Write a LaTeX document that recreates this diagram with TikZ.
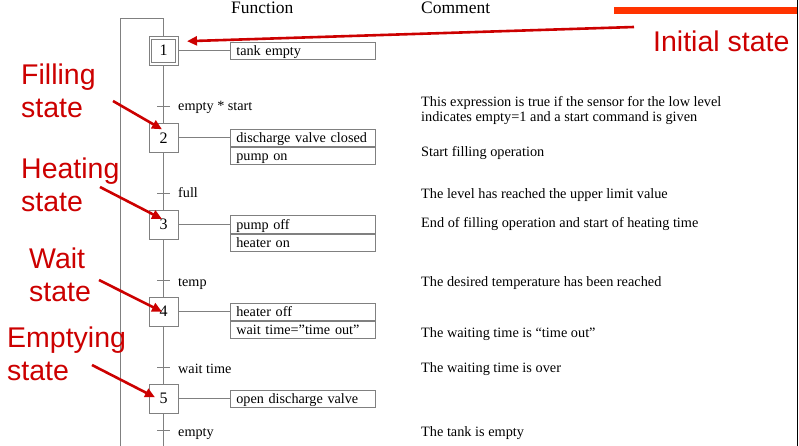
\documentclass[tikz,border=0pt]{standalone}
\usepackage{fontspec}
\setmainfont{Liberation Serif}
\newfontfamily\notefont{Liberation Sans}
\usetikzlibrary{arrows.meta,positioning}
\definecolor{colorLine}{HTML}{808080}
\definecolor{colorNote}{HTML}{CC0000}
\definecolor{colorBar}{HTML}{FF3300}

\begin{document}
\begin{tikzpicture}[x=1pt,y=-1pt,>={Triangle[length=10pt,width=9pt]},every node/.append style={align=left},stepbox/.style={draw=colorLine, line width=0.8pt, minimum size=29pt, inner sep=0pt, font=\fontsize{16}{18}\selectfont},innerbox/.style={draw=colorLine, line width=0.8pt, minimum size=23.5pt, inner sep=0pt},act/.style={draw=colorLine, line width=0.8pt, minimum height=17.3pt, text width=133pt, inner xsep=6pt, inner ysep=0pt, text height=11.5pt, text depth=1.5pt, font=\fontsize{14.2}{16}\selectfont},trans/.style={anchor=base west, inner sep=0pt, font=\fontsize{14.2}{16}\selectfont},cmt/.style={anchor=base west, inner sep=0pt, font=\fontsize{14.3}{15}\selectfont},head/.style={anchor=base west, inner sep=0pt, font=\fontsize{17.5}{20}\selectfont},note/.style={anchor=north west, inner sep=0pt, text=colorNote, font=\notefont\fontsize{28.5}{33}\selectfont},link/.style={draw=colorLine, line width=0.8pt},hint/.style={->, draw=colorNote, line width=2.6pt}]
    \useasboundingbox (0,0) rectangle (799,446);
    \node [head] (Hf) at (231,14) {Function};
    \node [head] (Hc) at (421,14) {Comment};
    \node [stepbox] (S1) at (163.5,50.7) {1};
    \node [innerbox] (S1i) at (S1) {};
    \node [stepbox] (S2) at (163.5,137.8) {2};
    \node [stepbox] (S3) at (163.5,224.5) {3};
    \node [stepbox] (S4) at (163.5,311.7) {4};
    \node [stepbox] (S5) at (163.5,398.8) {5};
    \node [act, right=51.5pt of S1] (A1) {tank empty};
    \node [act, right=51.5pt of S2] (A2a) {discharge valve closed};
    \node [act, below=0pt of A2a] (A2b) {pump on};
    \node [act, right=51.5pt of S3] (A3a) {pump off};
    \node [act, below=0pt of A3a] (A3b) {heater on};
    \node [act, right=51.5pt of S4] (A4a) {heater off};
    \node [act, below=0pt of A4a] (A4b) {wait time=''time out''};
    \node [act, right=51.5pt of S5] (A5) {open discharge valve};
    \coordinate (Top) at (163.5,18.5);
    \coordinate (Bot) at (163.5,446);
    \coordinate (LoopTop) at (120.5,18.5);
    \coordinate (LoopBot) at (120.5,446);
    \coordinate (T1) at (163.5,106.5);
    \coordinate (T2) at (163.5,193);
    \coordinate (T3) at (163.5,280);
    \coordinate (T4) at (163.5,367);
    \coordinate (T5) at (163.5,430.5);
    \draw [link] (LoopBot) -- (LoopTop) -- (Top) -- (S1);
    \draw [link] (S1) -- (S2);
    \draw [link] (S2) -- (S3);
    \draw [link] (S3) -- (S4);
    \draw [link] (S4) -- (S5);
    \draw [link] (S5) -- (Bot);
    \foreach \t in {T1,T2,T3,T4,T5}
        \draw [link] ([xshift=-6.5pt]\t) -- ([xshift=6pt]\t);
    \draw [link] (S1) -- (A1);
    \draw [link] (S2) -- (A2a);
    \draw [link] (S3) -- (A3a);
    \draw [link] (S4) -- (A4a);
    \draw [link] (S5) -- (A5);
    \node [trans] (L1) at (178,111) {empty * start};
    \node [trans] (L2) at (178,198) {full};
    \node [trans] (L3) at (178,286) {temp};
    \node [trans] (L4) at (178,373) {wait time};
    \node [trans] (L5) at (178,436) {empty};
    \node [cmt, anchor=north west] (C1) at (421,96.5) {This expression is true if the sensor for the low level\\indicates empty=1 and a start command is given};
    \node [cmt] (C2) at (421,157) {Start filling operation};
    \node [cmt] (C3) at (421,199) {The level has reached the upper limit value};
    \node [cmt] (C4) at (421,227) {End of filling operation and start of heating time};
    \node [cmt] (C5) at (421,286) {The desired temperature has been reached};
    \node [cmt] (C6) at (421,337) {The waiting time is ``time out''};
    \node [cmt] (C7) at (421,372) {The waiting time is over};
    \node [cmt] (C8) at (421,436) {The tank is empty};
    \draw [colorBar, line width=7pt] (614,10.5) -- (797,10.5);
    \draw [black, line width=1.2pt] (797.5,0) -- (797.5,446);
    \node [note, anchor=base west] (Ninit) at (653,52) {Initial state};
    \node [note] (Nfill) at (21,64) {Filling\\state};
    \node [note] (Nheat) at (21,158) {Heating\\state};
    \node [note] (Nwait) at (29,248) {Wait\\state};
    \node [note] (Nempty) at (7,327) {Emptying\\state};
    \coordinate (Hinit) at (634,27);
    \coordinate (Hfill) at (113,101);
    \coordinate (Hheat) at (100,187);
    \coordinate (Hwait) at (99,280);
    \coordinate (Hempty) at (92,365);
    \draw [hint] (Hinit) -- ([shift={(23.5pt,9.5pt)}]S1.center);
    \draw [hint] (Hfill) -- ([shift={(-1.5pt,8.5pt)}]S2.center);
    \draw [hint] (Hheat) -- ([shift={(-1.5pt,5.5pt)}]S3.center);
    \draw [hint] (Hwait) -- ([shift={(-1.5pt,0pt)}]S4.center);
    \draw [hint] (Hempty) -- ([shift={(-8.5pt,1.5pt)}]S5.center);
\end{tikzpicture}
\end{document}
